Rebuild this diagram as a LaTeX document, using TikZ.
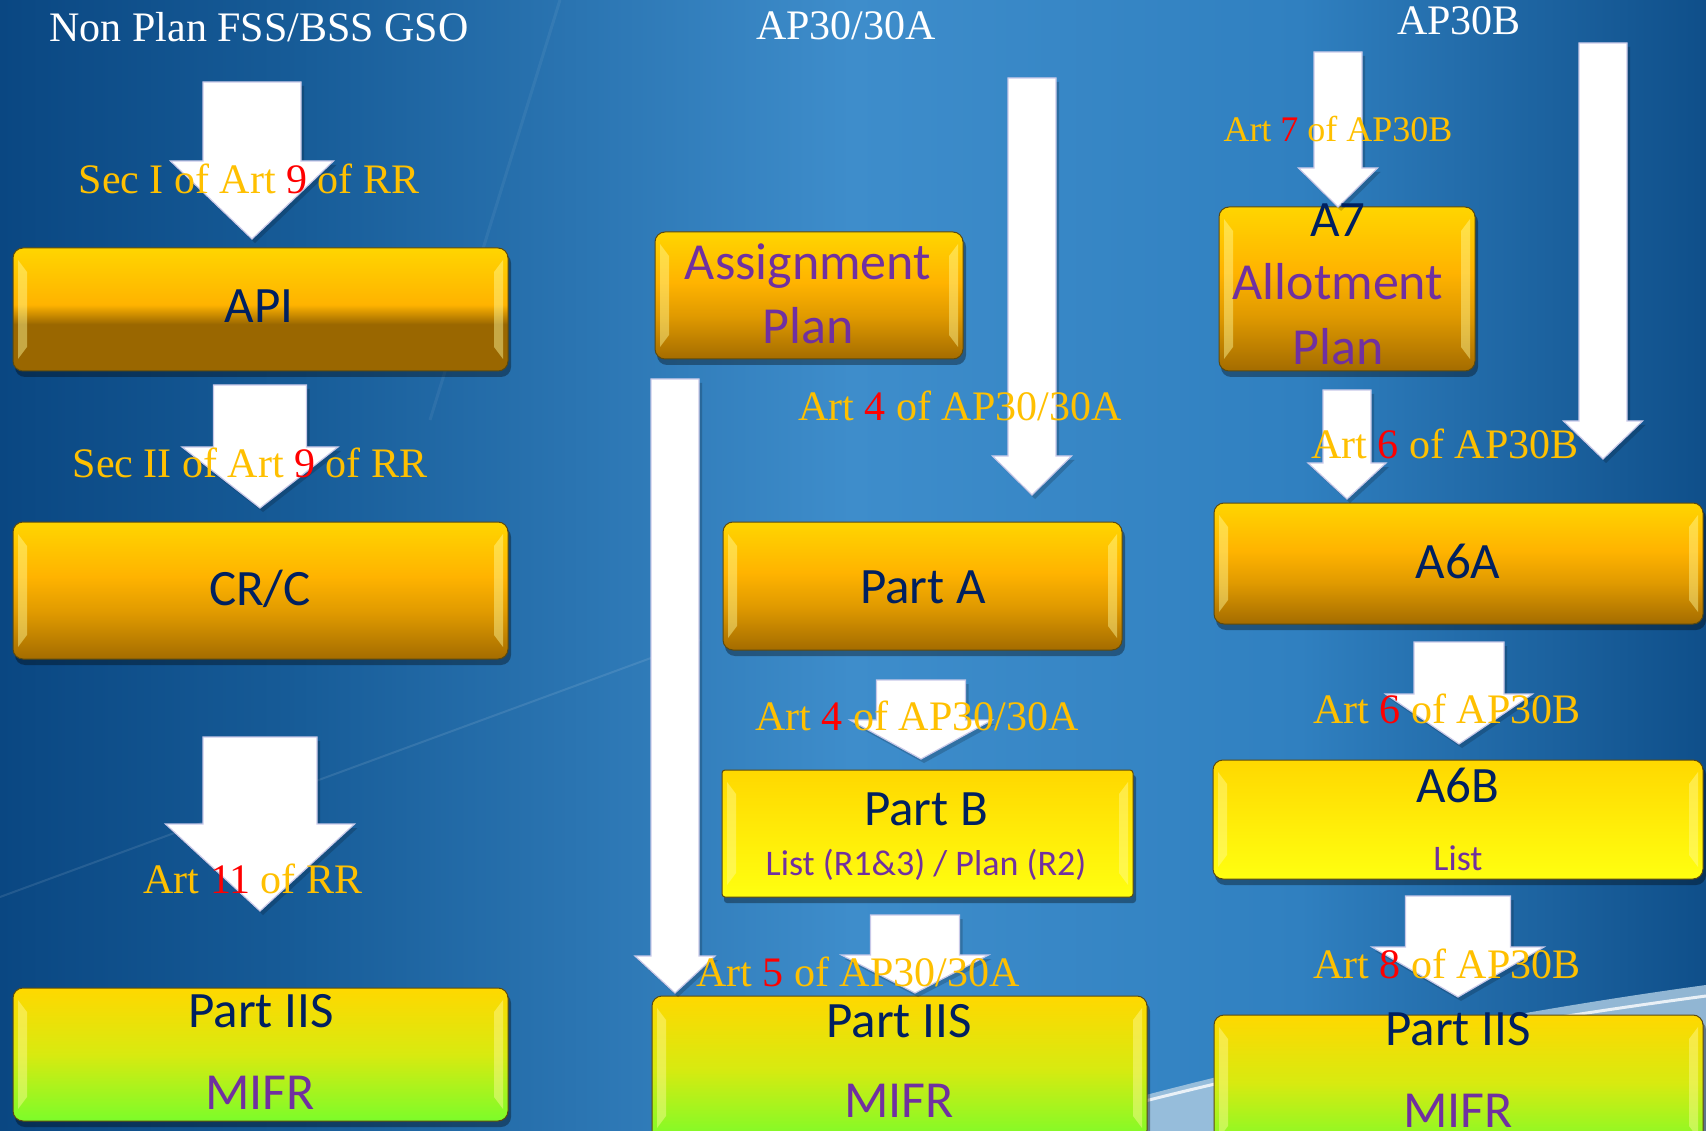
\documentclass[tikz,border=0pt]{standalone}
\usepackage{fontspec}
\setmainfont{Liberation Serif}
\newfontfamily\boxfont{Carlito}
\definecolor{navy}{HTML}{002060}
\definecolor{purp}{HTML}{7030A0}
\definecolor{lblorange}{HTML}{FFC000}
\definecolor{bgA}{HTML}{0A4782}
\definecolor{bgA2}{HTML}{175C98}
\definecolor{bgB}{HTML}{3E8DCB}
\definecolor{bgC}{HTML}{3080C0}
\definecolor{bgD}{HTML}{0F4F8A}
\definecolor{gT}{HTML}{FFD500}
\definecolor{gM}{HTML}{FFB300}
\definecolor{gMd}{HTML}{E09A00}
\definecolor{gB}{HTML}{A46C00}
\definecolor{gBa}{HTML}{9A6700}
\definecolor{yT}{HTML}{FFD800}
\definecolor{yB}{HTML}{FFFF10}
\definecolor{grM}{HTML}{D8EA10}
\definecolor{grB}{HTML}{7CFC2A}
\definecolor{boxedge}{HTML}{5C4A10}
\definecolor{arrowedge}{HTML}{C8C8E8}
\definecolor{swoosh}{HTML}{A8C8E0}
\pgfdeclareverticalshading{goldA}{100bp}{color(0bp)=(gBa); color(25bp)=(gBa); color(44bp)=(gBa); color(52bp)=(gM); color(75bp)=(gT); color(100bp)=(gT)}
\pgfdeclareverticalshading{goldS}{100bp}{color(0bp)=(gB); color(25bp)=(gB); color(42bp)=(gMd); color(55bp)=(gM); color(75bp)=(gT); color(100bp)=(gT)}
\pgfdeclareverticalshading{yelS}{100bp}{color(0bp)=(yB); color(25bp)=(yB); color(75bp)=(yT); color(100bp)=(yT)}
\pgfdeclareverticalshading{grnS}{100bp}{color(0bp)=(grB); color(25bp)=(grB); color(50bp)=(grM); color(75bp)=(yT); color(100bp)=(yT)}
\newcommand{\glassbox}[7]{%
  \pgfmathsetmacro\bw{#4-#2}\pgfmathsetmacro\bh{#5-#3}%
  \pgfmathsetmacro\bx{(#2+#4)/2}\pgfmathsetmacro\by{(#3+#5)/2}%
  \fill[black,opacity=0.35,rounded corners=#7] (#2+2,#3+5) rectangle (#4+3,#5+6);
  \node[box,shading=#6,rounded corners=#7,minimum width=\bw pt,minimum height=\bh pt] (#1) at (\bx,\by) {};
  \fill[yellow!40!white,opacity=0.45] (#2+5,#3+12) -- (#2+14,#3+24) -- (#2+14,#5-24) -- (#2+5,#5-12) -- cycle;
  \fill[yellow!40!white,opacity=0.45] (#4-5,#3+12) -- (#4-14,#3+24) -- (#4-14,#5-24) -- (#4-5,#5-12) -- cycle;
}
\newcommand{\blockarrow}[7]{%
  \fill[black,opacity=0.18] (#2-#4/2+3,#3+4) -- (#2+#4/2+3,#3+4) -- (#2+#4/2+3,#5+4) -- (#2+#6/2+3,#5+4) -- (#2+3,#7+4) -- (#2-#6/2+3,#5+4) -- (#2-#4/2+3,#5+4) -- cycle;
  \draw[blk] (#2-#4/2,#3) -- (#2+#4/2,#3) -- (#2+#4/2,#5) -- (#2+#6/2,#5) -- (#2,#7) -- (#2-#6/2,#5) -- (#2-#4/2,#5) -- cycle;
  \coordinate (#1) at (#2,#7);
}
\begin{document}
\begin{tikzpicture}[x=1pt,y=-1pt,
  box/.style={draw=boxedge,line width=1pt,inner sep=0pt},
  lbl/.style={font=\fontsize{42}{42}\selectfont,text=lblorange,inner sep=0pt,anchor=base},
  lbls/.style={font=\fontsize{36}{36}\selectfont,text=lblorange,inner sep=0pt,anchor=base},
  ttl/.style={font=\fontsize{42}{42}\selectfont,text=white,inner sep=0pt,anchor=base},
  bt/.style={font=\boxfont\fontsize{51}{51}\selectfont,text=navy,inner sep=0pt,anchor=base},
  bp/.style={font=\boxfont\fontsize{52}{52}\selectfont,text=purp,inner sep=0pt,anchor=base},
  bs/.style={font=\boxfont\fontsize{36}{36}\selectfont,text=purp,inner sep=0pt,anchor=base},
  blk/.style={fill=white,draw=arrowedge,line width=1.2pt,line join=miter},
]
\useasboundingbox (0,0) rectangle (1706,1131);
\clip (0,0) rectangle (1706,1131);
% background
\fill[left color=bgA,right color=bgA2] (0,0) rectangle (301,1131);
\fill[left color=bgA2,right color=bgB] (300,0) rectangle (851,1131);
\fill[left color=bgB,right color=bgC] (850,0) rectangle (1301,1131);
\fill[left color=bgC,right color=bgD] (1300,0) rectangle (1706,1131);
\draw[white,opacity=0.10,line width=2pt] (0,897) -- (700,640);
\draw[white,opacity=0.06,line width=3pt] (560,0) -- (430,420);
\fill[swoosh,opacity=0.85] (1020,1131) .. controls (1200,1075) and (1450,1020) .. (1706,985) -- (1706,1131) -- cycle;
\draw[white,opacity=0.8,line width=3pt] (1080,1118) .. controls (1250,1072) and (1450,1030) .. (1706,996);
% boxes
\glassbox{api}{13}{248}{508}{371}{goldA}{10pt}
\glassbox{crc}{13}{522}{508}{659}{goldS}{10pt}
\glassbox{iisl}{13}{988}{508}{1121}{grnS}{10pt}
\glassbox{asg}{655}{232}{963}{359}{goldS}{10pt}
\glassbox{pa}{723}{522}{1122}{650}{goldS}{10pt}
\glassbox{pb}{722}{770}{1133}{897}{yelS}{3pt}
\glassbox{iism}{652}{996}{1147}{1140}{grnS}{10pt}
\glassbox{a7}{1219}{207}{1475}{371}{goldS}{10pt}
\glassbox{a6a}{1214}{503}{1703}{624}{goldS}{10pt}
\glassbox{a6b}{1213}{760}{1703}{879}{yelS}{10pt}
\glassbox{iisr}{1214}{1015}{1703}{1150}{grnS}{10pt}
% block arrows
\blockarrow{ar1}{252}{82}{98}{161}{163}{239}
\blockarrow{ar2}{260}{385}{93}{447}{156}{508}
\blockarrow{ar3}{260}{737}{114}{824}{189}{911}
\blockarrow{ar4}{1032}{78}{48}{456}{79}{495}
\blockarrow{ar5}{675}{379}{48}{956}{80}{993}
\blockarrow{ar6}{921}{680}{89}{720}{142}{759}
\blockarrow{ar7}{915}{915}{89}{955}{147}{993}
\blockarrow{ar8}{1338}{52}{48}{168}{79}{207}
\blockarrow{ar9}{1603}{43}{48}{421}{79}{459}
\blockarrow{ar10}{1347}{390}{48}{463}{78}{499}
\blockarrow{ar11}{1459}{642}{90}{694}{147}{744}
\blockarrow{ar12}{1458}{896}{105}{947}{172}{997}
% titles
\node[ttl] (t1) at (259,42) {Non Plan FSS/BSS GSO};
\node[ttl] (t2) at (846,40) {AP30/30A};
\node[ttl] (t3) at (1459,35) {AP30B};
% box texts
\node[bt] (apiT) at (259,323) {API};
\node[bt] (crcT) at (260,605) {CR/C};
\node[bt] (iislT) at (261,1027) {Part IIS};
\node[bp] (iislM) at (260,1109) {MIFR};
\node[bp] (asgT) at (808,280) {Assignment};
\node[bp] (asgP) at (808,344) {Plan};
\node[bt] (paT) at (923,603) {Part A};
\node[bt] (pbT) at (926,825) {Part B};
\node[bs] (pbS) at (926,875) {List (R1\&3) / Plan (R2)};
\node[bt] (iismT) at (899,1037) {Part IIS};
\node[bp] (iismM) at (899,1117) {MIFR};
\node[bt] (a7T) at (1338,237) {A7};
\node[bp] (a7A) at (1338,300) {Allotment};
\node[bp] (a7P) at (1338,365) {Plan};
\node[bt] (a6aT) at (1458,578) {A6A};
\node[bt] (a6bT) at (1458,802) {A6B};
\node[bs] (a6bS) at (1458,870) {List};
\node[bt] (iisrT) at (1458,1045) {Part IIS};
\node[bp] (iisrM) at (1458,1127) {MIFR};
% labels
\node[lbl] (l1) at (249,194) {Sec I of Art \textcolor{red}{9} of RR};
\node[lbl] (l2) at (250,478) {Sec II of Art \textcolor{red}{9} of RR};
\node[lbl] (l3) at (253,893) {Art \textcolor{red}{11} of RR};
\node[lbl] (l4) at (960,421) {Art \textcolor{red}{4} of AP30/30A};
\node[lbl] (l5) at (917,730) {Art \textcolor{red}{4} of AP30/30A};
\node[lbl] (l6) at (858,986) {Art \textcolor{red}{5} of AP30/30A};
\node[lbls] (l7) at (1338,142) {Art \textcolor{red}{7} of AP30B};
\node[lbl] (l8) at (1445,459) {Art \textcolor{red}{6} of AP30B};
\node[lbl] (l9) at (1447,723) {Art \textcolor{red}{6} of AP30B};
\node[lbl] (l10) at (1447,978) {Art \textcolor{red}{8} of AP30B};
\end{tikzpicture}
\end{document}
